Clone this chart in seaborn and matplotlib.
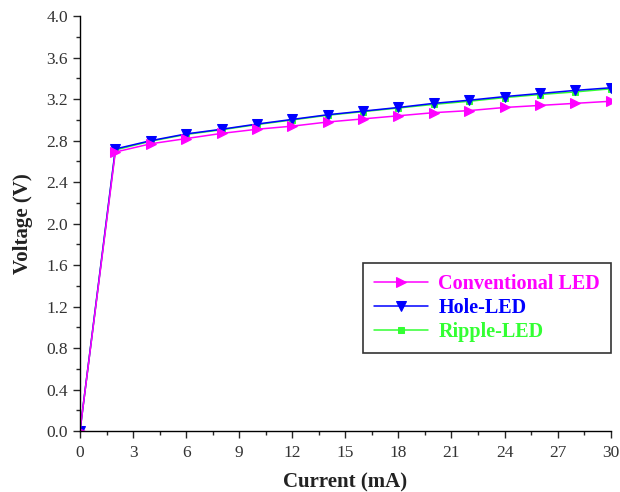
import numpy as np
import pandas as pd
import matplotlib
matplotlib.use("Agg")
import matplotlib.pyplot as plt
import seaborn as sns
from matplotlib.ticker import MultipleLocator

current = [0, 2, 4, 6, 8, 10, 12, 14, 16, 18, 20, 22, 24, 26, 28, 30]
conventional = [0.0, 2.69, 2.77, 2.82, 2.87, 2.91, 2.94, 2.98, 3.01, 3.04, 3.07, 3.09, 3.12, 3.14, 3.16, 3.18]
hole = [0.0, 2.72, 2.80, 2.865, 2.91, 2.96, 3.005, 3.05, 3.085, 3.12, 3.16, 3.19, 3.225, 3.255, 3.285, 3.31]
ripple = [0.0, 2.71, 2.795, 2.86, 2.905, 2.955, 3.0, 3.045, 3.08, 3.115, 3.15, 3.18, 3.215, 3.245, 3.27, 3.30]
labels = ["Conventional LED", "Hole-LED", "Ripple-LED"]
colors = ["#ff00ff", "#0000ff", "#33ff33"]
markers = [">", "v", "s"]

df = pd.concat([
    pd.DataFrame({"Current": current, "Voltage": v, "Series": lab})
    for v, lab in zip([conventional, hole, ripple], labels)
])

sns.set_style("ticks")
plt.rcParams["font.family"] = ["Liberation Serif", "DejaVu Serif"]

fig = plt.figure(figsize=(6.2, 4.92), dpi=100)
ax = fig.add_axes([0.129, 0.124, 0.856, 0.843])

order = ["Ripple-LED", "Hole-LED", "Conventional LED"]
for lab in order:
    i = labels.index(lab)
    sub = df[df["Series"] == lab]
    sns.lineplot(data=sub, x="Current", y="Voltage", ax=ax, color=colors[i],
                 marker=markers[i], markersize=6.5 if markers[i] != "s" else 4.5,
                 markeredgecolor=colors[i], linewidth=1.1, label=lab,
                 estimator=None, sort=False)

ax.set_xlim(0, 30)
ax.set_ylim(0, 4.0)
ax.xaxis.set_minor_locator(MultipleLocator(1.5))
ax.yaxis.set_minor_locator(MultipleLocator(0.2))
ax.set_xticks(np.arange(0, 31, 3))
ax.set_xticklabels([f"{int(t)}" for t in np.arange(0, 31, 3)])
ax.set_yticks(np.arange(0, 4.01, 0.4))
ax.set_yticklabels([f"{t:.1f}" for t in np.arange(0, 4.01, 0.4)])
ax.tick_params(axis="both", which="major", length=5, width=1, labelsize=12.5,
               labelcolor="#333333", direction="out")
ax.tick_params(axis="x", which="major", pad=5)
ax.tick_params(axis="both", which="minor", length=3, width=1, direction="out")
for s in ["top", "right"]:
    ax.spines[s].set_visible(False)
for s in ["left", "bottom"]:
    ax.spines[s].set_linewidth(1.0)
    ax.spines[s].set_color("black")

ax.set_xlabel("Current (mA)", fontsize=15, fontweight="bold", color="#222222", labelpad=8)
ax.set_ylabel("Voltage (V)", fontsize=15, fontweight="bold", color="#222222", labelpad=10)

handles, labs = ax.get_legend_handles_labels()
hmap = dict(zip(labs, handles))
leg = ax.legend([hmap[l] for l in labels], labels, loc="lower left",
                bbox_to_anchor=(0.514, 0.163), frameon=True, fancybox=False,
                edgecolor="#333333", framealpha=1, borderpad=0.55,
                handlelength=2.7, handletextpad=0.5, labelspacing=0.2,
                prop={"weight": "bold", "size": 14.5})
leg.get_frame().set_linewidth(1.2)
for txt, c in zip(leg.get_texts(), colors):
    txt.set_color(c)
leg.set_clip_on(False)

fig.savefig("out.png", dpi=100)
